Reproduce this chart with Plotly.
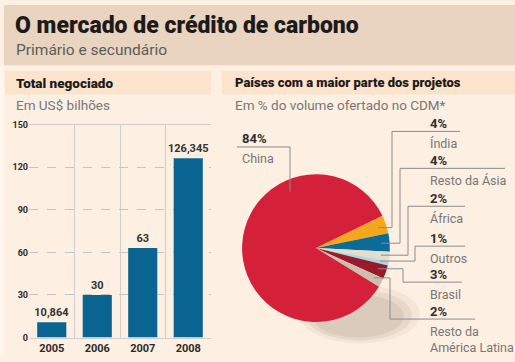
import math
import plotly.graph_objects as go

W, H = 515, 362

# Total traded volume (US$ billions)
years = ["2005", "2006", "2007", "2008"]
volume = [10.864, 30, 63, 126.345]
volume_labels = ["10,864", "30", "63", "126,345"]
y_ticks = [0, 30, 60, 90, 120, 150]

# Share of CDM offered volume by region (%)
regions = ["Índia", "Resto da Ásia", "África", "Outros", "Brasil",
           "Resto da<br>América Latina", "China"]
shares = [4, 4, 2, 1, 3, 2, 84]
share_labels = ["4%", "4%", "2%", "1%", "3%", "2%", "84%"]
region_colors = ["#F4A71D", "#0B6C98", "#E6DCCB", "#A9D9E3", "#9A1A2B",
                 "#CBBFAE", "#D5203A"]

BAR_COLOR = "#0A6492"
TEXT_DARK = "#2b2b2b"
TEXT_GRAY = "#777777"
LEADER = "#8c8c8c"


def px(x):
    return x / W


def py(y):
    return 1 - y / H


def rect(x0, y0, x1, y1, color, layer="below"):
    return dict(type="rect", xref="paper", yref="paper",
                x0=px(x0), x1=px(x1), y0=py(y1), y1=py(y0),
                fillcolor=color, line=dict(width=0), layer=layer)


def seg(points, color=LEADER, width=1):
    path = "M " + " L ".join(f"{px(x)},{py(y)}" for x, y in points)
    return dict(type="path", xref="paper", yref="paper", path=path,
                line=dict(color=color, width=width), layer="above")


fig = go.Figure()

# Bar chart of traded volume
fig.add_trace(go.Bar(
    x=years, y=volume, text=volume_labels, textposition="outside",
    constraintext="none",
    textfont=dict(family="Roboto", size=11, color="#333333", weight=700),
    marker=dict(color=BAR_COLOR, line=dict(width=0)), width=0.64,
    cliponaxis=False, hoverinfo="skip", showlegend=False,
))

# Pie of regional shares
pie_cx, pie_cy, pie_r = 316, 250, 76
rotation = 64
fig.add_trace(go.Pie(
    labels=regions, values=shares, sort=False, direction="clockwise",
    rotation=rotation, textinfo="none", hoverinfo="skip",
    marker=dict(colors=region_colors, line=dict(width=0)),
    domain=dict(x=[px(pie_cx - pie_r), px(pie_cx + pie_r)],
                y=[py(pie_cy + pie_r), py(pie_cy - pie_r)]),
    showlegend=False,
))

shapes = [
    rect(0, 0, W, H, "#FDEFE2"),
    rect(0, 62, 4, H, "#FFF6EE"),
    rect(4, 0, W, 62, "#E8D4BF"),
    rect(5, 68, 211, 92, "#FCE3CB"),
    rect(222, 68, W, 92, "#FCE3CB"),
]

# soft shadow beneath the pie
for i, op in enumerate([0.10, 0.14, 0.18]):
    shapes.append(dict(type="circle", xref="paper", yref="paper",
                       x0=px(300 + i * 6), x1=px(420 - i * 8),
                       y0=py(348 - i * 3), y1=py(288 + i * 5),
                       fillcolor=f"rgba(160,145,125,{op})",
                       line=dict(width=0), layer="below"))

# leader lines and labels for the pie slices
label_rows = [
    # (vertical x, underline y, underline end x)
    (392, 130, 460),
    (400, 168, 505),
    (408, 207, 465),
    (415, 248, 465),
    (403, 285, 462),
    (390, 323, 475),
]
annotations = []
cum = 0
for i in range(len(shares) - 1):
    mid = rotation + (cum + shares[i] / 2) / sum(shares) * 360
    cum += shares[i]
    ang = math.radians(mid)
    ax = pie_cx + 0.86 * pie_r * math.sin(ang)
    ay = pie_cy - 0.86 * pie_r * math.cos(ang)
    vx, uy, ux = label_rows[i]
    shapes.append(seg([(ax, ay), (vx, ay), (vx, uy), (ux, uy)]))
    annotations.append(dict(x=px(428), y=py(uy - 8), xref="paper", yref="paper",
                            text=share_labels[i], showarrow=False,
                            xanchor="left", yanchor="middle",
                            font=dict(family="Roboto", size=13, color="#2e2e2e", weight=700)))
    annotations.append(dict(x=px(428), y=py(uy + 3), xref="paper", yref="paper",
                            text=regions[i], showarrow=False,
                            xanchor="left", yanchor="top", align="left",
                            font=dict(family="Roboto", size=12.5, color=TEXT_GRAY)))

# China label
shapes.append(seg([(237, 146), (290, 146), (290, 192)]))
annotations.append(dict(x=px(240), y=py(137), xref="paper", yref="paper",
                        text=share_labels[-1], showarrow=False,
                        xanchor="left", yanchor="middle",
                        font=dict(family="Roboto", size=13, color="#2e2e2e", weight=700)))
annotations.append(dict(x=px(240), y=py(158), xref="paper", yref="paper",
                        text=regions[-1], showarrow=False,
                        xanchor="left", yanchor="middle",
                        font=dict(family="Roboto", size=12.5, color=TEXT_GRAY)))


# titles
def text(x, y, s, size, color, weight=400, family="Roboto"):
    annotations.append(dict(x=px(x), y=py(y), xref="paper", yref="paper",
                            text=s, showarrow=False, xanchor="left",
                            yanchor="middle",
                            font=dict(family=family, size=size, color=color,
                                      weight=weight)))


text(13, 21, "O mercado de crédito de carbono", 23, "#1f1a1a", 900)
text(14, 46, "Primário e secundário", 15.5, "#5c5c5c")
text(14, 80, "Total negociado", 13.5, "#1f1a1a", 900)
text(14, 103, "Em US$ bilhões", 13.5, TEXT_GRAY)
text(233, 80, "Países com a maior parte dos projetos", 13, "#1f1a1a", 900)
text(233, 103, "Em % do volume ofertado no CDM*", 13.5, TEXT_GRAY)

fig.update_layout(
    width=W, height=H, margin=dict(l=0, r=0, t=0, b=0),
    paper_bgcolor="#FDEFE2", plot_bgcolor="#FFFFFF",
    shapes=shapes, annotations=annotations,
    xaxis=dict(domain=[px(29), px(211)], type="category", tickson="boundaries",
               showgrid=True, gridcolor="#cfcfcf", gridwidth=1,
               showline=True, mirror=True, linecolor="#cfcfcf",
               ticks="", tickfont=dict(family="Roboto", size=11, color=TEXT_DARK, weight=700),
               fixedrange=True),
    yaxis=dict(domain=[py(342), py(123)], range=[0, 150], tickvals=y_ticks,
               showgrid=True, gridcolor="#c4c4c4", griddash="dash",
               zeroline=False, ticks="",
               tickfont=dict(family="Roboto", size=9, color=TEXT_DARK, weight=700),
               fixedrange=True),
    bargap=0.36,
)

fig.write_html("out.html")
